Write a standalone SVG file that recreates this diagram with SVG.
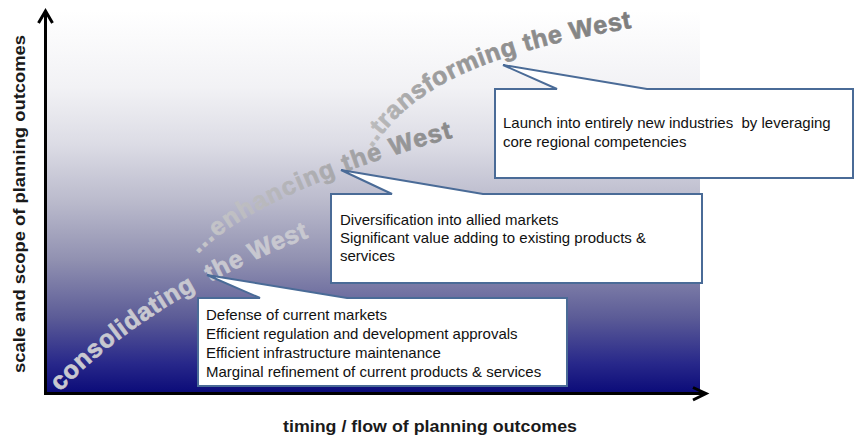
<svg xmlns="http://www.w3.org/2000/svg" xmlns:xlink="http://www.w3.org/1999/xlink" width="854" height="436" viewBox="0 0 854 436">
  <defs>
    <linearGradient id="bg" x1="0" y1="10" x2="0" y2="394" gradientUnits="userSpaceOnUse">
      <stop offset="0" stop-color="#ffffff"/>
      <stop offset="0.2" stop-color="#f2f2f5"/>
      <stop offset="0.35" stop-color="#dcdce5"/>
      <stop offset="0.5" stop-color="#babacc"/>
      <stop offset="0.65" stop-color="#9191b1"/>
      <stop offset="0.8" stop-color="#5c5c97"/>
      <stop offset="0.92" stop-color="#28288a"/>
      <stop offset="1" stop-color="#0a0a78"/>
    </linearGradient>
    <linearGradient id="gEnh" x1="0" y1="0" x2="1" y2="0">
      <stop offset="0" stop-color="#cacace"/>
      <stop offset="0.45" stop-color="#b0b0b4"/>
      <stop offset="1" stop-color="#888888"/>
    </linearGradient>
    <linearGradient id="gTra" x1="0" y1="0" x2="1" y2="0">
      <stop offset="0" stop-color="#c4c4c6"/>
      <stop offset="0.3" stop-color="#9c9c9c"/>
      <stop offset="1" stop-color="#7c7c7c"/>
    </linearGradient>
    <path id="pCon" d="M 60,392 Q 150,298 312,236"/>
    <path id="pEnh" d="M 198,254 Q 262,188 480,130"/>
    <path id="pTra" d="M 372,148 C 410,95 460,55 655,24"/>
  </defs>
  <style>
    .axis { stroke: #000; stroke-width: 3; fill: none; }
    .axlabel { font-family: "Liberation Sans", Arial, sans-serif; font-weight: bold; font-size: 17px; fill: #1a1a1a; }
    .callout { fill: #ffffff; stroke: #4a6b97; stroke-width: 2; }
    .ctext { font-family: "Liberation Sans", Arial, sans-serif; font-size: 15px; fill: #111111; }
    .arc { font-family: "Liberation Sans", Arial, sans-serif; font-weight: bold; font-size: 25px; letter-spacing: 0.7px; stroke-width: 0.7px; }
  </style>

  <rect x="45" y="10" width="655" height="384" fill="url(#bg)"/>

  <g id="phase-labels">
    <text class="arc" fill="#c8c8d0" stroke="#c8c8d0" xml:space="preserve"><textPath xlink:href="#pCon">consolidating  the West</textPath></text>
    <text class="arc" fill="url(#gEnh)" stroke="url(#gEnh)" font-size="26" style="letter-spacing:1.3px"><textPath xlink:href="#pEnh">...enhancing the West</textPath></text>
    <text class="arc" fill="url(#gTra)" stroke="url(#gTra)"><textPath xlink:href="#pTra">..transforming the West</textPath></text>
  </g>

  <g id="connectors">
    <path class="axis" d="M 45.5,394 L 45.5,12"/>
    <path class="axis" d="M 38.5,23 L 45.5,11 L 52.5,23"/>
    <path class="axis" d="M 44,393.5 L 706,393.5"/>
    <path class="axis" d="M 693,387.5 L 706,393.5 L 693,400"/>
  </g>

  <g id="callout-consolidating">
    <path class="callout" d="M 198,298 L 260,298 L 207,275 L 347,298 L 567,298 L 567,386 L 198,386 Z"/>
    <text class="ctext" x="206" y="320">Defense of current markets</text>
    <text class="ctext" x="206" y="339">Efficient regulation and development approvals</text>
    <text class="ctext" x="206" y="358">Efficient infrastructure maintenance</text>
    <text class="ctext" x="206" y="377">Marginal refinement of current products &amp; services</text>
  </g>

  <g id="callout-enhancing">
    <path class="callout" d="M 331,194 L 392,194 L 341,170 L 483,194 L 702,194 L 702,283 L 331,283 Z"/>
    <text class="ctext" x="340" y="225">Diversification into allied markets</text>
    <text class="ctext" x="340" y="243">Significant value adding to existing products &amp;</text>
    <text class="ctext" x="340" y="261">services</text>
  </g>

  <g id="callout-transforming">
    <path class="callout" d="M 495,89 L 557,89 L 503,65 L 647,89 L 853,89 L 853,178 L 495,178 Z"/>
    <text class="ctext" x="503" y="128" xml:space="preserve">Launch into entirely new industries  by leveraging</text>
    <text class="ctext" x="503" y="147">core regional competencies</text>
  </g>

  <g id="axis-labels">
    <text class="axlabel" transform="translate(25,204) rotate(-90)" text-anchor="middle" textLength="338" lengthAdjust="spacingAndGlyphs">scale and scope of planning outcomes</text>
    <text class="axlabel" x="430" y="432" text-anchor="middle" textLength="294" lengthAdjust="spacingAndGlyphs">timing / flow of planning outcomes</text>
  </g>
</svg>
